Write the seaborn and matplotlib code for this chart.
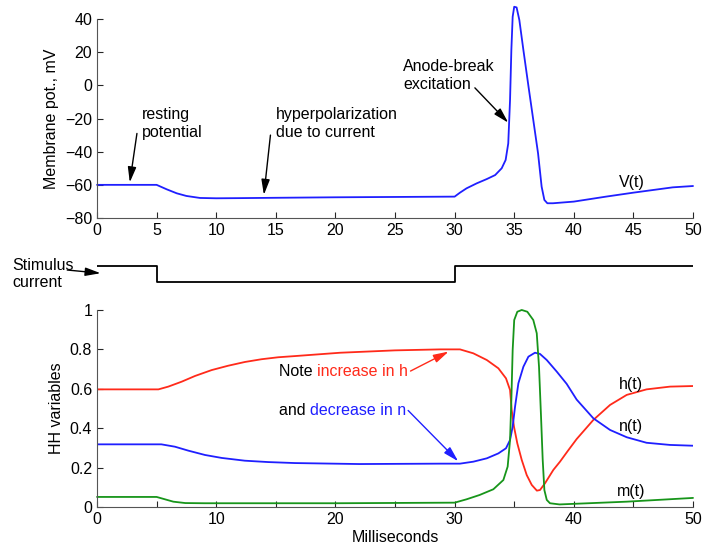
import matplotlib
matplotlib.use("Agg")
import matplotlib.pyplot as plt
import seaborn as sns

# membrane potential V(t)
t_v = [0, 5, 5.85, 6.69, 7.5, 8.64, 10, 12, 15, 20, 25, 30, 30.45, 31.0, 31.85,
       32.7, 33.4, 33.95, 34.28, 34.5, 34.65, 34.76, 34.87, 35.0, 35.2, 35.43,
       35.77, 36.2, 36.6, 37.0, 37.3, 37.53, 37.78, 38.25, 40, 42.7, 45, 48.3, 50]
v = [-60, -60, -62.7, -65.1, -66.7, -67.9, -68.1, -68, -67.8, -67.5, -67.3, -67.1,
     -64.7, -62.1, -59.1, -56.5, -54.1, -50, -45, -35, -8.8, 21.3, 41.4, 47.4, 47,
     39.4, 21.3, -0.8, -20.9, -41, -61.1, -69.1, -71.1, -71.1, -70.1, -67.1, -64.7,
     -61.5, -60.7]

# stimulus current (step)
t_stim = [0, 5, 5, 30, 30, 50]
i_stim = [1, 1, 0, 0, 1, 1]

# HH gating variables
t_h = [0, 5.15, 5.98, 7.1, 8.22, 9.62, 11.0, 12.4, 13.8, 15.2, 16.6, 20.4, 25, 28.8,
       30.45, 31.57, 32.7, 33.67, 34.31, 34.65, 34.79, 34.98, 35.26, 35.63, 36.05,
       36.47, 36.9, 37.16, 37.58, 38.28, 38.84, 39.5, 40.24, 41.64, 43.04, 44.44,
       46.1, 48.07, 50]
h = [0.597, 0.597, 0.611, 0.636, 0.665, 0.695, 0.717, 0.736, 0.75, 0.76, 0.766,
     0.783, 0.795, 0.80, 0.80, 0.78, 0.746, 0.704, 0.653, 0.594, 0.492, 0.408,
     0.323, 0.239, 0.162, 0.112, 0.083, 0.086, 0.12, 0.188, 0.23, 0.285, 0.345,
     0.442, 0.518, 0.569, 0.597, 0.611, 0.614]

t_n = [0, 5.4, 6.54, 7.66, 9.06, 10.46, 12.4, 14.37, 16.6, 22, 28.8, 30.45, 31.57,
       32.7, 33.67, 34.31, 34.65, 34.87, 35.07, 35.35, 35.77, 36.19, 36.74, 37.16,
       37.73, 38.57, 39.4, 40.24, 41.64, 43.04, 44.44, 46.1, 48.07, 50]
n = [0.318, 0.318, 0.306, 0.286, 0.264, 0.249, 0.235, 0.228, 0.223, 0.218, 0.22,
     0.22, 0.23, 0.247, 0.272, 0.298, 0.34, 0.408, 0.509, 0.628, 0.712, 0.763,
     0.783, 0.777, 0.746, 0.687, 0.625, 0.545, 0.45, 0.391, 0.354, 0.326, 0.315,
     0.311]

t_m = [0, 5.0, 5.7, 6.4, 7.4, 9, 20, 30, 31.0, 32.1, 33.25, 34.09, 34.45, 34.65,
       34.76, 34.87, 35.0, 35.26, 35.63, 36.1, 36.6, 36.89, 37.08, 37.25, 37.39,
       37.53, 37.73, 38.0, 38.8, 44.44, 50]
m = [0.051, 0.051, 0.039, 0.027, 0.02, 0.019, 0.019, 0.022, 0.039, 0.061, 0.09,
     0.137, 0.205, 0.34, 0.543, 0.797, 0.949, 0.991, 1.0, 0.991, 0.949, 0.882,
     0.712, 0.458, 0.239, 0.086, 0.036, 0.019, 0.013, 0.027, 0.046]

top_xticks = [0, 5, 10, 15, 20, 25, 30, 35, 40, 45, 50]
top_yticks = [-80, -60, -40, -20, 0, 20, 40]
bot_xticks = [0, 10, 20, 30, 40, 50]
bot_yticks = [0, 0.2, 0.4, 0.6, 0.8, 1]
bot_ylabels = ["0", "0.2", "0.4", "0.6", "0.8", "1"]

sns.set_style("ticks", {"xtick.direction": "in", "ytick.direction": "in",
                        "axes.edgecolor": "#555555", "text.color": "black",
                        "axes.labelcolor": "black"})
plt.rcParams["font.family"] = ["Liberation Sans", "DejaVu Sans"]
plt.rcParams["font.size"] = 11.5

BLUE = "#1f1fff"
RED = "#ff2a1a"
GREEN = "#17951a"
fs = 11.5

fig = plt.figure(figsize=(7.04, 5.5), dpi=100)
ax1 = fig.add_axes([0.1378, 0.6036, 0.8466, 0.3618])
ax2 = fig.add_axes([0.1378, 0.4727, 0.8466, 0.0582])
ax3 = fig.add_axes([0.1378, 0.0782, 0.8466, 0.3582])

arrow = dict(arrowstyle="-|>,head_width=0.22,head_length=0.8", color="black",
             lw=1.0, shrinkA=0, shrinkB=0)

# ---- top panel: membrane potential
sns.lineplot(x=t_v, y=v, ax=ax1, color=BLUE, lw=1.3, estimator=None, sort=False,
             clip_on=False)
ax1.set_xlim(0, 50)
ax1.set_ylim(-80, 40)
ax1.set_xticks(top_xticks)
ax1.set_yticks(top_yticks)
ax1.set_ylabel("Membrane pot., mV", fontsize=fs)
ax1.tick_params(labelsize=fs, length=4, width=0.8, labelcolor="black")
sns.despine(ax=ax1)

ax1.text(3.75, -22.7, "resting\npotential", fontsize=fs, va="center", linespacing=1.25)
ax1.annotate("", xy=(2.75, -58.5), xytext=(3.35, -29), arrowprops=arrow)
ax1.text(15.0, -22.7, "hyperpolarization\ndue to current", fontsize=fs, va="center",
         linespacing=1.25)
ax1.annotate("", xy=(14.0, -66), xytext=(14.55, -30), arrowprops=arrow)
ax1.text(25.7, 6.2, "Anode-break\nexcitation", fontsize=fs, va="center", linespacing=1.25)
ax1.annotate("", xy=(34.5, -22.5), xytext=(31.7, -1.5), arrowprops=arrow)
ax1.text(44.9, -58.7, "V(t)", fontsize=fs, ha="center", va="center")

# ---- middle: stimulus current
sns.lineplot(x=t_stim, y=i_stim, ax=ax2, color="black", lw=1.3, estimator=None,
             sort=False)
ax2.set_xlim(0, 50)
ax2.set_ylim(-0.5, 1.5)
ax2.axis("off")
ax2.text(-7.1, 0.5, "Stimulus\ncurrent", fontsize=fs, va="center", linespacing=1.15)
ax2.annotate("", xy=(0.3, 0.55), xytext=(-2.5, 0.75), arrowprops=arrow,
             annotation_clip=False)

# ---- bottom: HH variables
sns.lineplot(x=t_h, y=h, ax=ax3, color=RED, lw=1.3, estimator=None, sort=False)
sns.lineplot(x=t_n, y=n, ax=ax3, color=BLUE, lw=1.3, estimator=None, sort=False)
sns.lineplot(x=t_m, y=m, ax=ax3, color=GREEN, lw=1.3, estimator=None, sort=False,
             clip_on=False)
ax3.set_xlim(0, 50)
ax3.set_ylim(0, 1)
ax3.set_xticks(bot_xticks)
ax3.set_xticks(top_xticks, minor=True)
ax3.set_yticks(bot_yticks, bot_ylabels)
ax3.set_xlabel("Milliseconds", fontsize=fs, labelpad=2)
ax3.set_ylabel("HH variables", fontsize=fs)
ax3.tick_params(labelsize=fs, length=4, width=0.8, labelcolor="black")
ax3.tick_params(which="minor", length=4, width=0.8)
sns.despine(ax=ax3)

t1 = ax3.text(15.25, 0.687, "Note ", fontsize=fs, va="center")
ax3.annotate("increase in h", xy=(1, 0), xycoords=t1, va="bottom", fontsize=fs,
             color=RED)
ax3.annotate("", xy=(29.5, 0.789), xytext=(26.3, 0.69),
             arrowprops=dict(arrow, color=RED))
t2 = ax3.text(15.25, 0.49, "and ", fontsize=fs, va="center")
ax3.annotate("decrease in n", xy=(1, 0), xycoords=t2, va="bottom", fontsize=fs,
             color=BLUE)
ax3.annotate("", xy=(30.3, 0.232), xytext=(26.1, 0.49),
             arrowprops=dict(arrow, color=BLUE))
ax3.text(44.8, 0.62, "h(t)", fontsize=fs, ha="center", va="center")
ax3.text(44.8, 0.41, "n(t)", fontsize=fs, ha="center", va="center")
ax3.text(44.8, 0.078, "m(t)", fontsize=fs, ha="center", va="center")

fig.savefig("out.png", dpi=100)
